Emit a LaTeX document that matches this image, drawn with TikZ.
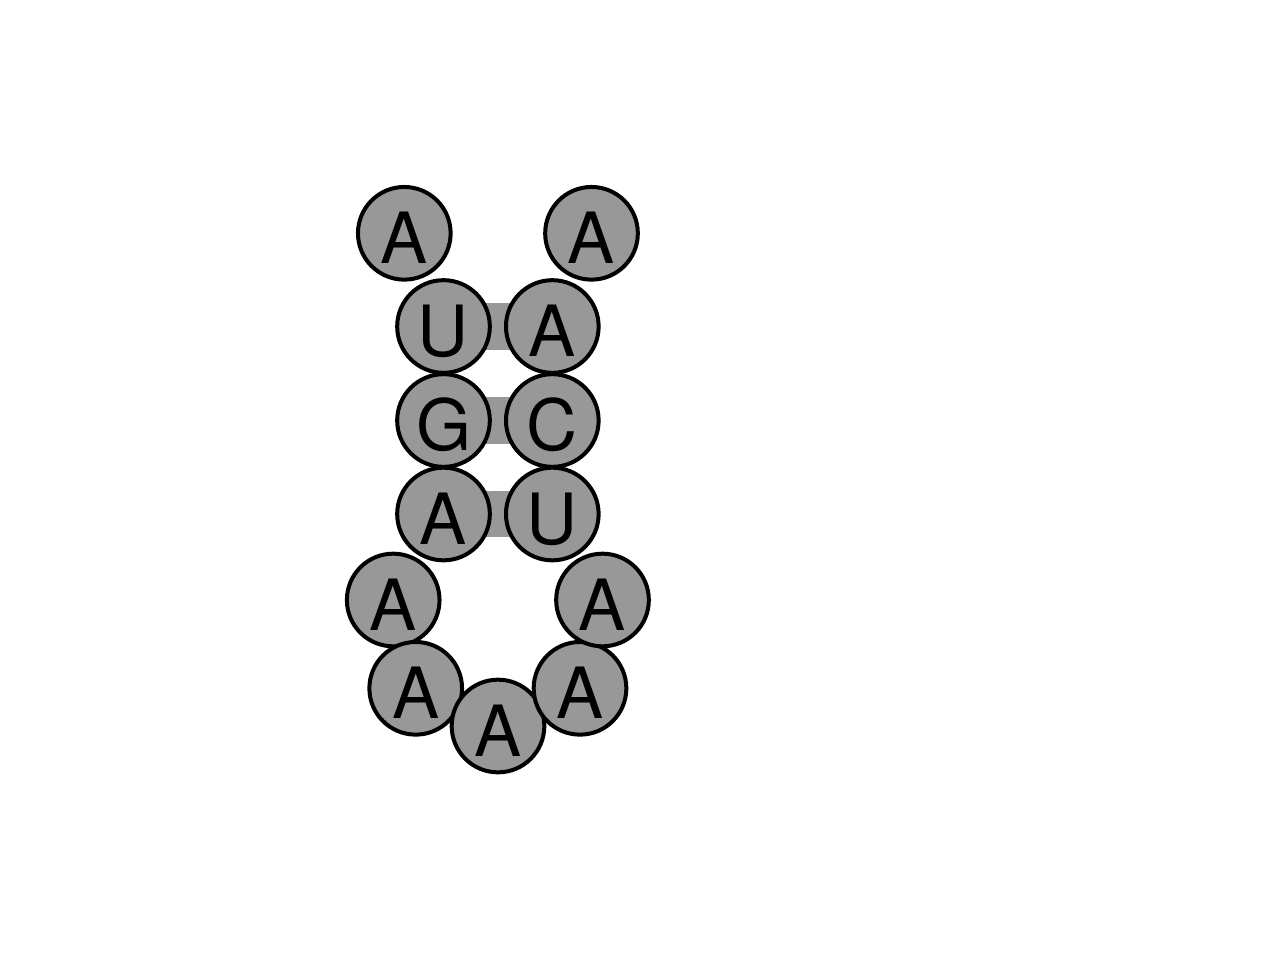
\documentclass[tikz,border=0pt]{standalone}
\usepackage{fontspec}
\setmainfont{TeX Gyre Heros}
\usetikzlibrary{backgrounds}
\definecolor{ntgray}{RGB}{152,152,152}
\tikzset{
  nt/.style={circle, draw=black, line width=3pt, fill=ntgray, minimum size=69.5pt,
    inner sep=0pt, font=\fontsize{53}{53}\selectfont, text height=45pt, text depth=0pt},
  bp/.style={draw=ntgray, line width=35pt, line cap=butt}
}
\begin{document}
\begin{tikzpicture}[x=0.75pt, y=-0.75pt]
\useasboundingbox (0,0) rectangle (1280,960);
\node[nt] (n1)  at (404.3,233.3) {A};
\node[nt] (n2)  at (443.5,326.5) {U};
\node[nt] (n3)  at (443.5,420.5) {G};
\node[nt] (n4)  at (443.5,514)   {A};
\node[nt] (n5)  at (393.2,600)   {A};
\node[nt] (n6)  at (415.7,688.3) {A};
\node[nt] (n7)  at (498,726)     {A};
\node[nt] (n8)  at (580,688.3)   {A};
\node[nt] (n9)  at (602.5,600)   {A};
\node[nt] (n10) at (552.3,514)   {U};
\node[nt] (n11) at (552.3,420.5) {C};
\node[nt] (n12) at (552.3,326.5) {A};
\node[nt] (n13) at (591.5,233.3) {A};
\begin{scope}[on background layer]
  \draw[bp] (n2.center) -- (n12.center);
  \draw[bp] (n3.center) -- (n11.center);
  \draw[bp] (n4.center) -- (n10.center);
\end{scope}
\end{tikzpicture}
\end{document}
